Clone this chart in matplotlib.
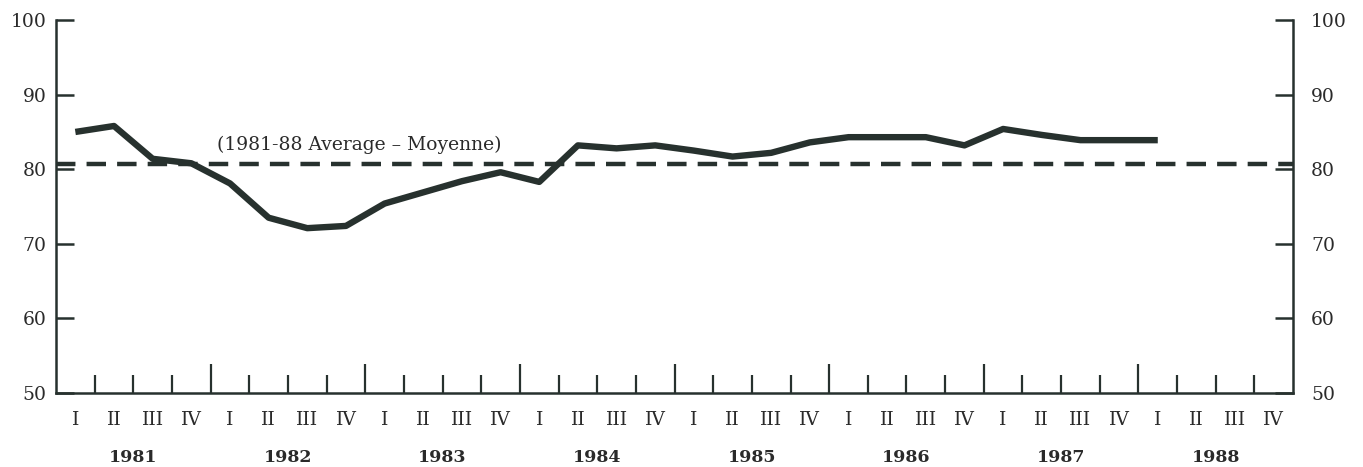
import matplotlib
matplotlib.use("Agg")
import matplotlib.pyplot as plt
import matplotlib.transforms as mtransforms

# quarterly index, 1981 Q1 .. 1988 Q1
years = ["1981", "1982", "1983", "1984", "1985", "1986", "1987", "1988"]
quarters = ["I", "II", "III", "IV"]
values = [85.0, 85.8, 81.4, 80.8, 78.1, 73.5, 72.1, 72.4,
          75.4, 76.9, 78.4, 79.6, 78.3, 83.2, 82.8, 83.2,
          82.5, 81.7, 82.2, 83.6, 84.3, 84.3, 84.3, 83.2,
          85.4, 84.6, 83.9, 83.9, 83.9]
average = 80.7
average_label = "(1981-88 Average \u2013 Moyenne)"

ink = "#27312e"
txt = "#2a2a2a"
plt.rcParams["font.family"] = ["DejaVu Serif"]
plt.rcParams["lines.scale_dashes"] = False

fig = plt.figure(figsize=(13.63, 4.67), dpi=100)
ax = fig.add_axes([0.0411, 0.1585, 0.9076, 0.7985])

n_q = len(years) * 4
ax.plot(range(len(values)), values, color=ink, lw=4.6, solid_joinstyle="round",
        solid_capstyle="butt", zorder=3)
ax.axhline(average, color=ink, lw=3.2, dashes=(14, 8), zorder=2)
ax.text(3.66, average + 1.3, average_label, fontsize=13.5, color=txt,
        ha="left", va="bottom")

ax.set_xlim(-0.5, n_q - 0.5)
ax.set_ylim(50, 100)

ax.spines["top"].set_visible(False)
for s in ["left", "right", "bottom"]:
    ax.spines[s].set_color(ink)
    ax.spines[s].set_linewidth(1.8)

ax.set_yticks(range(50, 101, 10))
ax.tick_params(axis="y", direction="in", length=13, width=1.8, color=ink,
               labelsize=13.5, labelcolor=txt, pad=7)
ax2 = ax.twinx()
ax2.set_ylim(50, 100)
ax2.set_yticks(range(50, 101, 10))
for s in ["top", "left", "bottom", "right"]:
    ax2.spines[s].set_visible(False)
ax2.tick_params(axis="y", direction="in", length=13, width=1.8, color=ink,
                labelsize=13.5, labelcolor=txt, pad=13)

year_bounds = [4 * k - 0.5 for k in range(1, len(years))]
q_bounds = [k - 0.5 for k in range(1, n_q) if k % 4 != 0]
ax.set_xticks(year_bounds)
ax.set_xticks(q_bounds, minor=True)
ax.tick_params(axis="x", which="major", direction="in", length=21, width=1.6,
               color=ink, labelbottom=False)
ax.tick_params(axis="x", which="minor", direction="in", length=13, width=1.6,
               color=ink, labelbottom=False)

trans = mtransforms.blended_transform_factory(ax.transData, fig.transFigure)
for i in range(n_q):
    ax.text(i, 1 - 420 / 467, quarters[i % 4], transform=trans, ha="center",
            va="center", fontsize=13.5, color=txt)
for k, y in enumerate(years):
    ax.text(4 * k + 1.5, 1 - 457 / 467, y, transform=trans, ha="center",
            va="center", fontsize=12.5, fontweight="bold", color=txt)

fig.savefig("out.png", dpi=100)
